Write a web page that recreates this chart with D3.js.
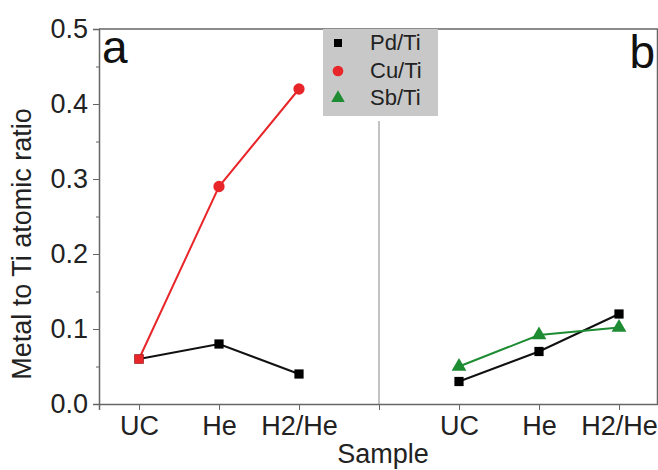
<!DOCTYPE html>
<html>
<head>
<meta charset="utf-8">
<script src="https://cdn.jsdelivr.net/npm/d3@7"></script>
<style>
  html, body { margin: 0; padding: 0; background: #fff; }
  svg { display: block; font-family: "Liberation Sans", Arial, sans-serif; }
</style>
</head>
<body>
<svg id="chart" width="658" height="470"></svg>
<script>
// ---- data ----
const tickLabels = ["UC", "He", "H2/He", "", "UC", "He", "H2/He"];
const leftPos = [1, 2, 3];
const rightPos = [5, 6, 7];
const pdLeft = [0.06, 0.08, 0.04];
const cuLeft = [0.06, 0.29, 0.42];
const pdRight = [0.03, 0.07, 0.12];
const sbRight = [0.05, 0.092, 0.102];
const yTicks = [0.0, 0.1, 0.2, 0.3, 0.4, 0.5];
const yMinorTicks = [0.05, 0.15, 0.25, 0.35, 0.45];
const legendLabels = ["Pd/Ti", "Cu/Ti", "Sb/Ti"];

// ---- layout ----
const svg = d3.select("#chart");
const L = 99, T = 29, R = 658, B = 404;
const x = d3.scaleLinear().domain([0.5, 7.5]).range([L, R + 1]);
const y = d3.scaleLinear().domain([0, 0.5]).range([B, T]);
const axisColor = "#666";

// frame (top and right)
svg.append("line").attr("x1", L).attr("x2", R).attr("y1", T).attr("y2", T)
  .attr("stroke", axisColor).attr("stroke-width", 1.5);
svg.append("line").attr("x1", R - 0.5).attr("x2", R - 0.5).attr("y1", T).attr("y2", B)
  .attr("stroke", axisColor).attr("stroke-width", 1.5);

// y axis
const yAxis = svg.append("g").attr("transform", `translate(${L},0)`)
  .call(d3.axisLeft(y).tickValues(yTicks).tickFormat(d3.format(".1f")).tickSize(6).tickPadding(5));
const yMinor = svg.append("g").attr("transform", `translate(${L},0)`)
  .call(d3.axisLeft(y).tickValues(yMinorTicks).tickFormat("").tickSize(3));
yMinor.select(".domain").remove();
[yAxis, yMinor].forEach(g => {
  g.select(".domain").attr("stroke", axisColor).attr("stroke-width", 1.5);
  g.selectAll(".tick line").attr("stroke", axisColor).attr("stroke-width", 1);
});
yAxis.selectAll(".tick text").attr("font-size", 27).attr("fill", "#222")
  .attr("font-family", "Liberation Sans, Arial, sans-serif");

// x axis
const xAxis = svg.append("g").attr("transform", `translate(0,${B})`)
  .call(d3.axisBottom(x).tickValues(d3.range(1, 8)).tickFormat((d) => tickLabels[d - 1]).tickSize(6).tickPadding(6));
xAxis.select(".domain").attr("stroke", axisColor).attr("stroke-width", 1.5);
xAxis.selectAll(".tick line").attr("stroke", axisColor).attr("stroke-width", 1);
xAxis.selectAll(".tick text").attr("font-size", 27).attr("fill", "#222")
  .attr("font-family", "Liberation Sans, Arial, sans-serif");

// axis titles
svg.append("text").attr("x", 383).attr("y", 463).attr("text-anchor", "middle")
  .attr("font-size", 27).attr("fill", "#222").text("Sample");
svg.append("text").attr("transform", `translate(31,244) rotate(-90)`)
  .attr("text-anchor", "middle").attr("font-size", 27).attr("fill", "#222")
  .text("Metal to Ti atomic ratio");

// panel letters
svg.append("text").attr("x", 102).attr("y", 63).attr("font-size", 46).attr("fill", "#111").text("a");
svg.append("text").attr("x", 655).attr("y", 68).attr("text-anchor", "end").attr("font-size", 46).attr("fill", "#111").text("b");

// divider
svg.append("line").attr("x1", x(4)).attr("x2", x(4)).attr("y1", 121).attr("y2", B)
  .attr("stroke", "#888").attr("stroke-width", 1);

// series
const line = d3.line().x(d => x(d[0])).y(d => y(d[1]));
function drawSeries(pos, vals, color) {
  const pts = pos.map((p, i) => [p, vals[i]]);
  svg.append("path").datum(pts).attr("d", line).attr("fill", "none")
    .attr("stroke", color).attr("stroke-width", 2);
  return pts;
}
const sym = (type, size) => d3.symbol().type(type).size(size);

const pdL = drawSeries(leftPos, pdLeft, "#111");
const cuL = drawSeries(leftPos, cuLeft, "#e8262a");
const pdR = drawSeries(rightPos, pdRight, "#111");
const sbR = drawSeries(rightPos, sbRight, "#1e8c32");

function drawMarkers(pts, color, type, size) {
  svg.append("g").selectAll("path").data(pts).join("path")
    .attr("transform", d => `translate(${x(d[0])},${y(d[1])})`)
    .attr("d", sym(type, size)()).attr("fill", color);
}
drawMarkers(pdL, "#000", d3.symbolSquare, 85);
drawMarkers(pdR, "#000", d3.symbolSquare, 85);
drawMarkers(sbR, "#1e8c32", d3.symbolTriangle, 95);
// Cu: first point (overlapping Pd) drawn as a red square, others circles
drawMarkers(cuL.slice(0, 1), "#e8262a", d3.symbolSquare, 85);
drawMarkers(cuL.slice(1), "#e8262a", d3.symbolCircle, 100);

// legend
const lg = svg.append("g");
lg.append("rect").attr("x", 323).attr("y", 29).attr("width", 115).attr("height", 87).attr("fill", "#c8c8c8");
const legendStyles = [
  { color: "#000", type: d3.symbolSquare, size: 64 },
  { color: "#e8262a", type: d3.symbolCircle, size: 90 },
  { color: "#1e8c32", type: d3.symbolTriangle, size: 80 }
];
const legendY = [43, 71, 98];
legendLabels.forEach((lab, i) => {
  lg.append("path").attr("transform", `translate(338,${legendY[i]})`)
    .attr("d", sym(legendStyles[i].type, legendStyles[i].size)()).attr("fill", legendStyles[i].color);
  lg.append("text").attr("x", 370).attr("y", legendY[i] + 7).attr("font-size", 22).attr("fill", "#222").text(lab);
});
</script>
</body>
</html>
